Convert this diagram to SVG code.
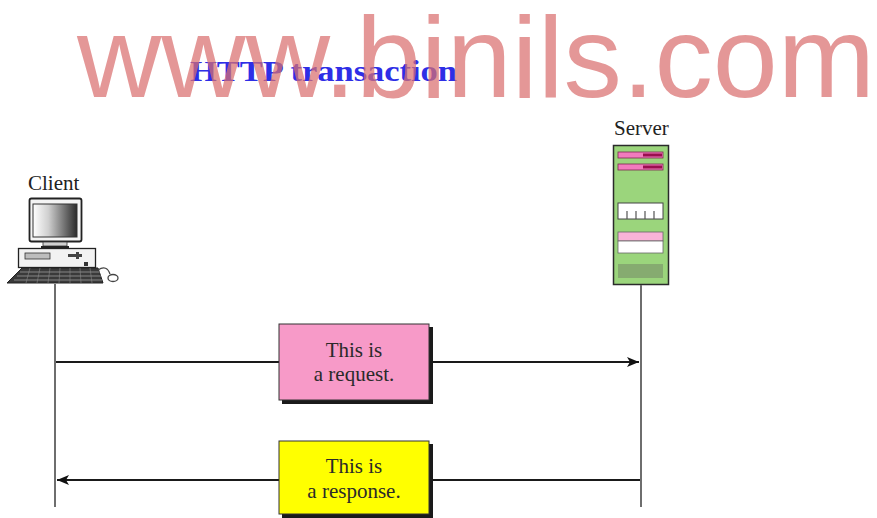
<svg xmlns="http://www.w3.org/2000/svg" width="877" height="518" viewBox="0 0 877 518">
  <defs>
    <style>
      .lbl { font-family: "Liberation Serif", "Times New Roman", serif; font-size: 21px; fill: #222; }
      .life { stroke: #6e6e6e; stroke-width: 2; fill: none; }
      .msg { stroke: #1a1a1a; stroke-width: 2; fill: none; }
      .boxtxt { font-family: "Liberation Serif", "Times New Roman", serif; font-size: 21px; fill: #2a2a2a; text-anchor: middle; }
    </style>
    <linearGradient id="screen" x1="0" y1="0" x2="1" y2="0">
      <stop offset="0" stop-color="#ffffff"/>
      <stop offset="0.35" stop-color="#cfcfcf"/>
      <stop offset="1" stop-color="#2a2a2a"/>
    </linearGradient>
    <marker id="arrow" viewBox="0 0 12 10" refX="12" refY="5" markerWidth="12" markerHeight="10" markerUnits="userSpaceOnUse" orient="auto">
      <path d="M0,0 L12,5 L0,10 L3,5 Z" fill="#111"/>
    </marker>
  </defs>

  <rect width="877" height="518" fill="#ffffff"/>

  <!-- title -->
  <text x="190" y="81" font-family="Liberation Serif, serif" font-weight="bold" font-size="30" fill="#2e2ee6" textLength="267" lengthAdjust="spacingAndGlyphs">HTTP transaction</text>

  <!-- client workstation -->
  <g id="client">
    <text class="lbl" x="28" y="190">Client</text>
    <!-- monitor -->
    <rect x="29.5" y="198.5" width="52" height="43" rx="2" fill="#f4f4f4" stroke="#222" stroke-width="1.8"/>
    <rect x="33" y="204" width="44" height="33" fill="url(#screen)" stroke="#333" stroke-width="1"/>
    <rect x="43" y="242" width="24" height="4" fill="#cfcfcf" stroke="#333" stroke-width="0.8"/>
    <rect x="41" y="246" width="28" height="2" fill="#222"/>
    <!-- system unit -->
    <rect x="18.5" y="248.5" width="77" height="19" fill="#f2f2f2" stroke="#222" stroke-width="1.3"/>
    <rect x="25" y="253" width="25" height="6" fill="#bdbdbd" stroke="#333" stroke-width="0.8"/>
    <rect x="68" y="254" width="14" height="3" fill="#444"/>
    <rect x="76" y="252" width="3" height="7" fill="#444"/>
    <rect x="84" y="262" width="4" height="4" fill="#333"/>
    <!-- keyboard -->
    <path d="M22,268 L98,268 L103,283 L7,283 Z" fill="#3a3a3a" stroke="#222" stroke-width="1"/>
    <path d="M20,272 L100,272 M17,276 L101,276 M14,280 L102,280" stroke="#9a9a9a" stroke-width="0.8"/>
    <path d="M30,268 L26,283 M40,268 L37,283 M50,268 L48,283 M60,268 L59,283 M70,268 L70,283 M80,268 L81,283 M90,268 L92,283" stroke="#888" stroke-width="0.6"/>
    <!-- mouse -->
    <path d="M98,270 C104,266 108,268 110,274" stroke="#444" stroke-width="1.3" fill="none"/>
    <ellipse cx="113" cy="278" rx="5" ry="3.5" fill="#fff" stroke="#444" stroke-width="1.3"/>
  </g>

  <!-- server cabinet -->
  <g id="server">
    <text class="lbl" x="614" y="135">Server</text>
    <rect x="613.5" y="145.5" width="55" height="139" fill="#9bd57c" stroke="#2a2a2a" stroke-width="1.5"/>
    <rect x="618" y="152" width="45" height="6" fill="#f27bbd" stroke="#7a2a4f" stroke-width="0.8"/>
    <rect x="643" y="153.5" width="19" height="3" fill="#9a0f4f"/>
    <rect x="618" y="164" width="45" height="6" fill="#f27bbd" stroke="#7a2a4f" stroke-width="0.8"/>
    <rect x="643" y="165.5" width="19" height="3" fill="#9a0f4f"/>
    <rect x="618" y="203" width="45" height="16" fill="#ffffff" stroke="#444" stroke-width="1"/>
    <path d="M627,211 V219 M636,211 V219 M645,211 V219 M654,211 V219" stroke="#555" stroke-width="1.2"/>
    <rect x="618" y="232" width="45" height="9" fill="#f9b3d8" stroke="#666" stroke-width="0.8"/>
    <rect x="618" y="241" width="45" height="12" fill="#ffffff" stroke="#666" stroke-width="0.8"/>
    <rect x="618" y="264" width="45" height="14" fill="#86ab70"/>
  </g>

  <!-- lifelines and messages -->
  <g id="connectors">
    <line class="life" x1="55" y1="284" x2="55" y2="507"/>
    <line class="life" x1="641" y1="285" x2="641" y2="507"/>
    <line class="msg" x1="56" y1="362" x2="639" y2="362" marker-end="url(#arrow)"/>
    <line class="msg" x1="640" y1="480" x2="57" y2="480" marker-end="url(#arrow)"/>
  </g>

  <!-- request message -->
  <g id="request">
    <rect x="282" y="327" width="151" height="77" fill="#1a1a1a"/>
    <rect x="279" y="324" width="150" height="76" fill="#f79ac8" stroke="#333" stroke-width="1"/>
    <text class="boxtxt" x="354" y="357">This is</text>
    <text class="boxtxt" x="354" y="381">a request.</text>
  </g>

  <!-- response message -->
  <g id="response">
    <rect x="282" y="444" width="151" height="74" fill="#1a1a1a"/>
    <rect x="279" y="441" width="150" height="73" fill="#ffff00" stroke="#333" stroke-width="1"/>
    <text class="boxtxt" x="354" y="473">This is</text>
    <text class="boxtxt" x="354" y="498">a response.</text>
  </g>

  <!-- site mark -->
  <text x="77" y="97" font-family="Liberation Sans, Arial, sans-serif" font-size="115" fill="#d96f6f" fill-opacity="0.72" textLength="798" lengthAdjust="spacingAndGlyphs">www.binils.com</text>
</svg>
